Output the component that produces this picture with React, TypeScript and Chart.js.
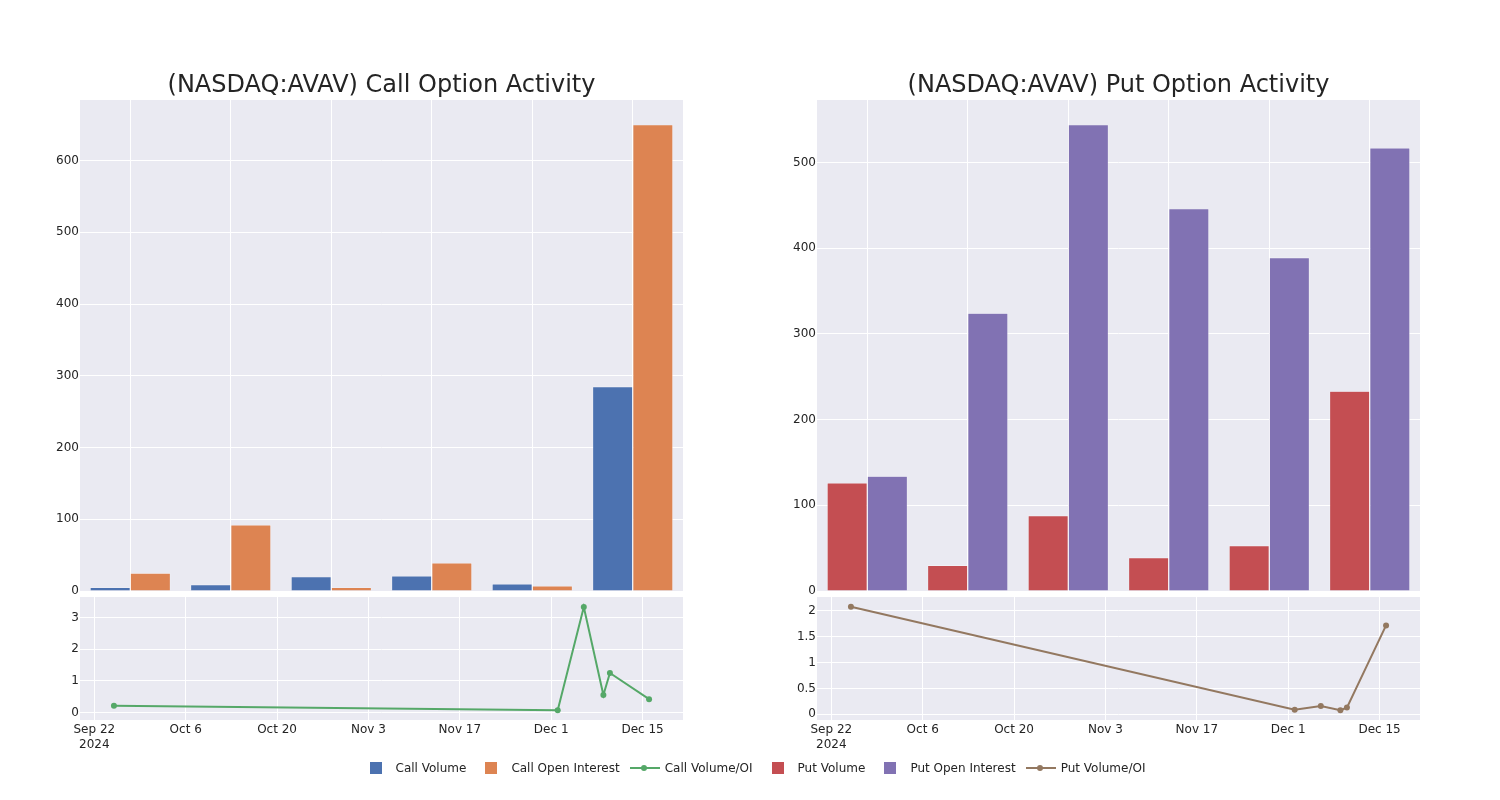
import React, { useEffect, useRef } from 'react';
import { Chart, registerables } from 'chart.js';

Chart.register(...registerables);

// ---------- data ----------
const BAR_GROUPS = ['1', '2', '3', '4', '5', '6'];
const CALL_VOLUME = [5, 9, 20, 21, 10, 285];
const CALL_OPEN_INTEREST = [25, 92, 5, 39, 7, 650];
const PUT_VOLUME = [126, 30, 88, 39, 53, 233];
const PUT_OPEN_INTEREST = [134, 324, 544, 446, 389, 517];

const RATIO_DATES = ['2024-09-25', '2024-12-02', '2024-12-06', '2024-12-09', '2024-12-10', '2024-12-16'];
const CALL_RATIO = [0.21, 0.07, 3.34, 0.55, 1.25, 0.42];
const PUT_RATIO = [2.08, 0.09, 0.16, 0.08, 0.13, 1.72];

const DATE_TICKS = ['2024-09-22', '2024-10-06', '2024-10-20', '2024-11-03', '2024-11-17', '2024-12-01', '2024-12-15'];
const DATE_TICK_LABELS: (string | string[])[] = [['Sep 22', '2024'], 'Oct 6', 'Oct 20', 'Nov 3', 'Nov 17', 'Dec 1', 'Dec 15'];

const COLORS = {
  callVolume: '#4C72B0',
  callOI: '#DD8452',
  callRatio: '#55A868',
  putVolume: '#C44E52',
  putOI: '#8172B3',
  putRatio: '#937860',
};

// ---------- helpers ----------
const FONT = 'DejaVu Sans';
const TEXT = '#242424';
const ORIGIN = Date.UTC(2024, 8, 22);
const DAY = 86400000;
const toDay = (s: string) => (Date.parse(s + 'T00:00:00Z') - ORIGIN) / DAY;
const X_MIN = -2.2;
const X_MAX = 90.2;

Chart.defaults.font.family = FONT;
Chart.defaults.font.size = 12;
Chart.defaults.color = TEXT;

const fmt = (v: number) => String(+Number(v).toFixed(2));

const plotBg = {
  id: 'plotBg',
  beforeDraw(chart: any) {
    const { ctx, chartArea: a } = chart;
    ctx.save();
    ctx.fillStyle = '#EAEAF2';
    ctx.fillRect(a.left, a.top, a.right - a.left, a.bottom - a.top);
    ctx.restore();
  },
};

function barConfig(title: string, a: number[], b: number[], la: string, lb: string, ca: string, cb: string, yMax: number): any {
  const mk = (label: string, data: number[], color: string) => ({
    label,
    data,
    backgroundColor: color,
    borderColor: 'rgba(255,255,255,0.6)',
    borderWidth: 0.6,
    borderSkipped: 'bottom',
    categoryPercentage: 0.8,
    barPercentage: 1.0,
  });
  return {
    type: 'bar',
    data: { labels: BAR_GROUPS, datasets: [mk(la, a, ca), mk(lb, b, cb)] },
    plugins: [plotBg],
    options: {
      responsive: false,
      animation: false,
      devicePixelRatio: 1,
      layout: { padding: { left: 0, right: 17, top: 0, bottom: 9 } },
      plugins: {
        legend: { display: false },
        tooltip: { enabled: false },
        title: {
          display: true,
          text: title,
          color: TEXT,
          fullSize: false,
          font: { family: FONT, size: 24, weight: 'normal' },
          padding: { top: 31.2, bottom: 0 },
        },
      },
      scales: {
        x: {
          type: 'category',
          offset: true,
          ticks: { display: false },
          grid: { color: '#ffffff', lineWidth: 1, offset: false, drawTicks: false },
          border: { display: false },
          afterFit: (s: any) => { s.height = 0; },
        },
        y: {
          min: 0,
          max: yMax,
          ticks: { stepSize: 100, includeBounds: false, padding: 1, color: TEXT, callback: fmt },
          grid: { color: '#ffffff', lineWidth: 1, drawTicks: false },
          border: { display: false },
          afterFit: (s: any) => { s.width = 80; },
        },
      },
    },
  };
}

function lineConfig(label: string, values: number[], color: string, yMin: number, yMax: number, step: number): any {
  const pts = RATIO_DATES.map((d, i) => ({ x: toDay(d), y: values[i] }));
  const tickVals = DATE_TICKS.map(toDay);
  return {
    type: 'line',
    data: {
      datasets: [{
        label,
        data: pts,
        borderColor: color,
        backgroundColor: color,
        borderWidth: 2,
        pointRadius: 3,
        pointBorderWidth: 0,
        tension: 0,
      }],
    },
    plugins: [plotBg],
    options: {
      responsive: false,
      animation: false,
      devicePixelRatio: 1,
      layout: { padding: { left: 0, right: 17, top: 10, bottom: 2 } },
      plugins: { legend: { display: false }, tooltip: { enabled: false } },
      scales: {
        x: {
          type: 'linear',
          min: X_MIN,
          max: X_MAX,
          afterBuildTicks: (s: any) => { s.ticks = tickVals.map((v) => ({ value: v })); },
          ticks: {
            autoSkip: false,
            maxRotation: 0,
            padding: 3,
            color: TEXT,
            callback: (v: number) => {
              const i = tickVals.indexOf(v);
              return i >= 0 ? DATE_TICK_LABELS[i] : '';
            },
          },
          grid: { color: '#ffffff', lineWidth: 1, drawTicks: false },
          border: { display: false },
          afterFit: (s: any) => { s.height = 40; },
        },
        y: {
          min: yMin,
          max: yMax,
          ticks: { stepSize: step, includeBounds: false, padding: 1, color: TEXT, callback: fmt },
          grid: { color: '#ffffff', lineWidth: 1, drawTicks: false },
          border: { display: false },
          afterFit: (s: any) => { s.width = 80; },
        },
      },
    },
  };
}

function ChartBox({ make, left, top, width, height }: { make: () => any; left: number; top: number; width: number; height: number }) {
  const ref = useRef<HTMLCanvasElement | null>(null);
  useEffect(() => {
    const chart = new Chart(ref.current as HTMLCanvasElement, make());
    return () => chart.destroy();
  }, []);
  return (
    <div style={{ position: 'absolute', left, top, width, height }}>
      <canvas ref={ref} width={width} height={height} style={{ display: 'block' }} />
    </div>
  );
}

const LEGEND_ITEMS = [
  { label: 'Call Volume', color: COLORS.callVolume, kind: 'bar' },
  { label: 'Call Open Interest', color: COLORS.callOI, kind: 'bar' },
  { label: 'Call Volume/OI', color: COLORS.callRatio, kind: 'line' },
  { label: 'Put Volume', color: COLORS.putVolume, kind: 'bar' },
  { label: 'Put Open Interest', color: COLORS.putOI, kind: 'bar' },
  { label: 'Put Volume/OI', color: COLORS.putRatio, kind: 'line' },
];

function Legend() {
  return (
    <div style={{ position: 'absolute', left: 3, top: 760, width: 1500, height: 16, display: 'flex', justifyContent: 'center', alignItems: 'center', fontFamily: FONT, fontSize: 12, color: TEXT }}>
      {LEGEND_ITEMS.map((it) => (
        <div key={it.label} style={{ display: 'flex', alignItems: 'center', marginRight: 5, height: 16 }}>
          <div style={{ width: 40, height: 16, position: 'relative' }}>
            {it.kind === 'bar' ? (
              <div style={{ position: 'absolute', left: 14, top: 2, width: 12, height: 12, background: it.color }} />
            ) : (
              <>
                <div style={{ position: 'absolute', left: 5, top: 7, width: 30, height: 2, background: it.color }} />
                <div style={{ position: 'absolute', left: 16, top: 5, width: 6, height: 6, borderRadius: 3, background: it.color }} />
              </>
            )}
          </div>
          <span style={{ whiteSpace: 'nowrap', lineHeight: '16px' }}>{it.label}</span>
        </div>
      ))}
    </div>
  );
}

export default function App() {
  return (
    <div style={{ position: 'absolute', left: 0, top: 0, width: 1500, height: 800, background: '#ffffff' }}>
      <ChartBox left={0} top={40} width={700} height={560}
        make={() => barConfig('(NASDAQ:AVAV) Call Option Activity', CALL_VOLUME, CALL_OPEN_INTEREST, 'Call Volume', 'Call Open Interest', COLORS.callVolume, COLORS.callOI, 684.5)} />
      <ChartBox left={737} top={40} width={700} height={560}
        make={() => barConfig('(NASDAQ:AVAV) Put Option Activity', PUT_VOLUME, PUT_OPEN_INTEREST, 'Put Volume', 'Put Open Interest', COLORS.putVolume, COLORS.putOI, 572.8)} />
      <ChartBox left={0} top={587} width={700} height={175}
        make={() => lineConfig('Call Volume/OI', CALL_RATIO, COLORS.callRatio, -0.24, 3.66, 1)} />
      <ChartBox left={737} top={587} width={700} height={175}
        make={() => lineConfig('Put Volume/OI', PUT_RATIO, COLORS.putRatio, -0.11, 2.27, 0.5)} />
      <Legend />
    </div>
  );
}
